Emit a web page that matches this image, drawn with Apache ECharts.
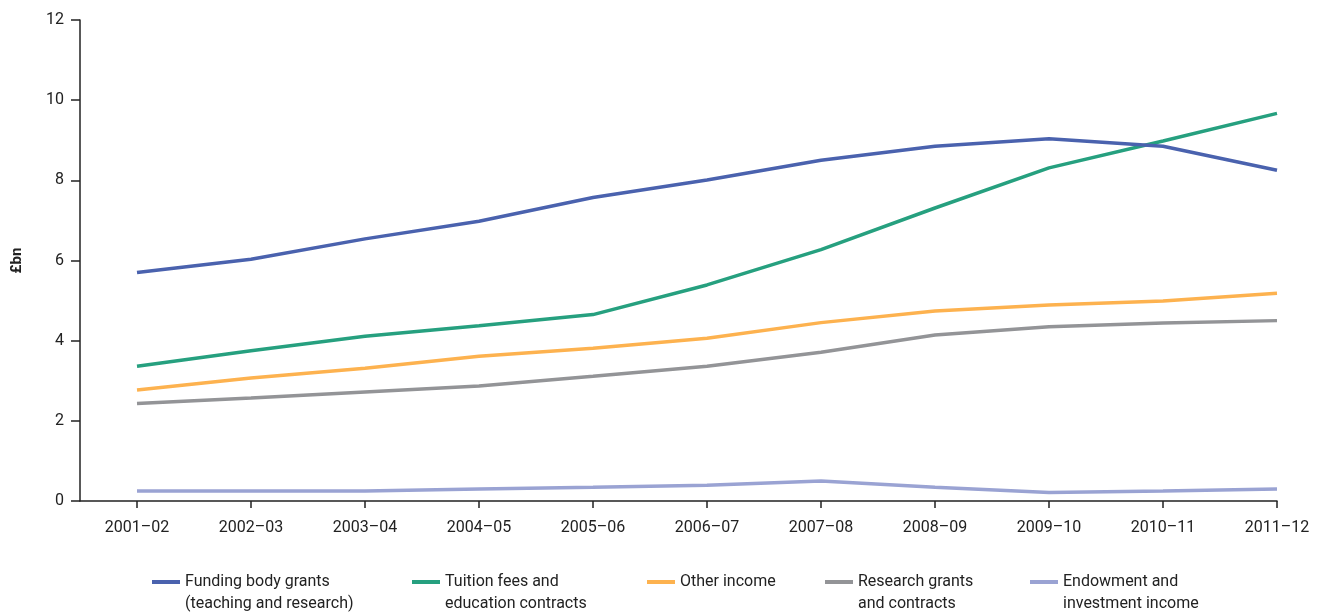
<!DOCTYPE html>
<html>
<head>
<meta charset="utf-8">
<script src="https://cdn.jsdelivr.net/npm/echarts@6/dist/echarts.min.js"></script>
<style>
html,body{margin:0;padding:0;background:#fff;}
#chart{width:1319px;height:615px;}
</style>
</head>
<body>
<div id="chart"></div>
<script>
const categories = ['2001–02','2002–03','2003–04','2004–05','2005–06','2006–07','2007–08','2008–09','2009–10','2010–11','2011–12'];
const fundingGrants = [5.70, 6.03, 6.54, 6.98, 7.57, 8.01, 8.50, 8.85, 9.04, 8.85, 8.25];
const tuitionFees   = [3.36, 3.75, 4.11, 4.37, 4.65, 5.39, 6.27, 7.31, 8.31, 8.98, 9.67];
const otherIncome   = [2.77, 3.07, 3.31, 3.61, 3.81, 4.06, 4.45, 4.74, 4.89, 4.99, 5.18];
const researchGrants= [2.43, 2.57, 2.72, 2.87, 3.11, 3.36, 3.71, 4.14, 4.35, 4.44, 4.50];
const endowment     = [0.25, 0.25, 0.25, 0.30, 0.34, 0.39, 0.50, 0.34, 0.21, 0.25, 0.30];
const yTicks = [0, 2, 4, 6, 8, 10, 12];

const seriesNames = ['Funding body grants','Tuition fees and','Other income','Research grants','Endowment and'];
const legendLines = [
  ['Funding body grants', '(teaching and research)'],
  ['Tuition fees and', 'education contracts'],
  ['Other income', ''],
  ['Research grants', 'and contracts'],
  ['Endowment and', 'investment income']
];
const seriesData = [fundingGrants, tuitionFees, otherIncome, researchGrants, endowment];
const colors = ['#4a62ae', '#26a07f', '#fdb24f', '#939497', '#9aa3d3'];
const legendLeft = [152, 412, 647, 825, 1030];

const font = 'Roboto, "Liberation Sans", sans-serif';

const chart = echarts.init(document.getElementById('chart'), null, {renderer: 'canvas'});

// icon: a 28x4 bar near the top of a 28x44 box, so it lines up with the first text line
const legendIcon = 'path://M0,0 L0.01,0 L0.01,0.01 Z M0,9 L28,9 L28,13 L0,13 Z M0,43.99 L0.01,44 L0,44 Z';

const legends = seriesNames.map((n, i) => ({
  data: [n],
  left: legendLeft[i],
  top: 571,
  padding: 0,
  orient: 'horizontal',
  itemWidth: 28,
  itemHeight: 44,
  itemGap: 6,
  icon: legendIcon,
  selectedMode: false,
  formatter: () => '{a|' + legendLines[i][0] + '}\n{a|' + (legendLines[i][1] || ' ') + '}',
  textStyle: {
    fontFamily: font,
    fontSize: 16,
    color: '#222',
    rich: { a: { fontFamily: font, fontSize: 16, color: '#222', lineHeight: 22 } }
  }
}));

const option = {
  backgroundColor: '#fff',
  animation: false,
  legend: legends,
  grid: { left: 80, right: 42, top: 20, bottom: 114, containLabel: false },
  xAxis: {
    type: 'value',
    min: -0.5,
    max: categories.length - 1,
    axisLine: { show: true, onZero: false, lineStyle: { color: '#222', width: 1.5 } },
    axisTick: {
      show: true, length: 7, inside: false,
      lineStyle: { color: '#222', width: 1.5 },
      customValues: categories.map((c, i) => i)
    },
    axisLabel: {
      fontFamily: font, fontSize: 16, color: '#222', margin: 19,
      customValues: categories.map((c, i) => i),
      formatter: v => categories[Math.round(v)] || ''
    },
    splitLine: { show: false }
  },
  yAxis: {
    type: 'value',
    min: 0, max: 12, interval: 2,
    name: '£bn',
    nameLocation: 'middle',
    nameGap: 55,
    nameRotate: 90,
    nameTextStyle: { fontFamily: font, fontSize: 15, fontWeight: 'bold', color: '#222' },
    axisLine: { show: true, onZero: false, lineStyle: { color: '#222', width: 1.5 } },
    axisTick: { show: true, length: 9, lineStyle: { color: '#222', width: 1.5 } },
    axisLabel: { fontFamily: font, fontSize: 16, color: '#222', margin: 16,
      formatter: v => yTicks.indexOf(v) >= 0 ? String(v) : '' },
    splitLine: { show: false }
  },
  series: seriesNames.map((n, i) => ({
    name: n,
    type: 'line',
    data: seriesData[i].map((v, j) => [j, v]),
    showSymbol: false,
    symbol: 'none',
    lineStyle: { color: colors[i], width: 3.5 },
    itemStyle: { color: colors[i] },
    z: 10 - i
  }))
};
chart.setOption(option);
</script>
</body>
</html>
